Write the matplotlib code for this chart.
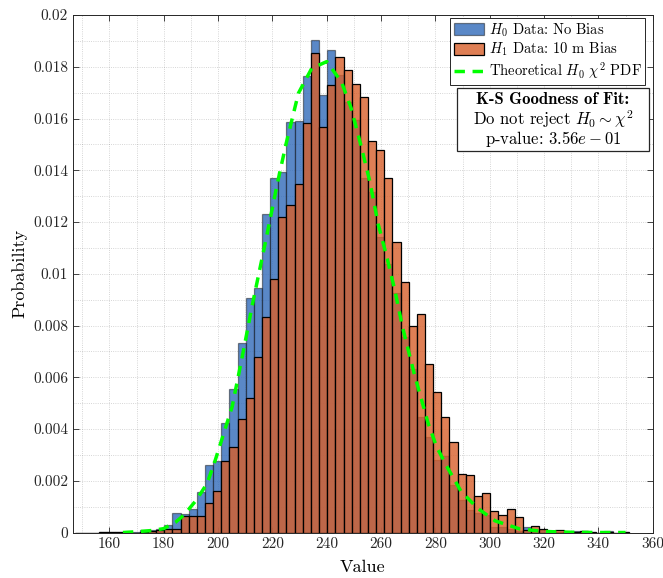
import numpy as np
import matplotlib
matplotlib.use("Agg")
import matplotlib.pyplot as plt
from matplotlib.ticker import MultipleLocator, FixedLocator
from matplotlib.patches import Rectangle

plt.rcParams['font.family'] = 'serif'
plt.rcParams['font.serif'] = ['cmr10']
plt.rcParams['mathtext.fontset'] = 'cm'
plt.rcParams['axes.unicode_minus'] = False

# bins: width 3, first edge read at ~147.2
bin_start = 147.2
bin_width = 3.0

# H0 data (no bias), probability per bin
h0_prob = [
    0, 0, 0, 0.00003, 0.00003, 0.00002, 0, 0.00002, 0.0001, 0.00008,
    0.00014, 0.00029, 0.00077, 0.0007, 0.00092, 0.00158, 0.00261, 0.00275, 0.00422, 0.00553,
    0.00734, 0.00908, 0.00944, 0.01231, 0.01371, 0.01392, 0.01588, 0.0159, 0.01764, 0.01903,
    0.0169, 0.01865, 0.01768, 0.01665, 0.01594, 0.01369, 0.01317, 0.01143, 0.01038, 0.00925,
    0.00757, 0.00632, 0.00448, 0.0037, 0.0028, 0.00296, 0.00184, 0.00126, 0.00087, 0.00075,
    0.00066, 0.00023, 0.0002, 0.00012, 0.00005, 0.00022, 0.00006, 0.00008, 0.00002, 0.00003,
    0.00002, 0.00004, 0.00004, 0.00002, 0, 0.00004, 0, 0.00002,
]

# H1 data (10 m bias)
h1_prob = [
    0, 0, 0, 0.00003, 0.00002, 0.00002, 0, 0, 0.00002, 0.00006,
    0.0001, 0.00012, 0.00012, 0.00062, 0.00062, 0.00065, 0.00115, 0.00162, 0.00275, 0.00329,
    0.00439, 0.00519, 0.00677, 0.00832, 0.00979, 0.01218, 0.01266, 0.01346, 0.01581, 0.01852,
    0.01566, 0.0173, 0.01839, 0.01786, 0.01732, 0.01682, 0.01512, 0.01477, 0.01372, 0.01122,
    0.00967, 0.00798, 0.00843, 0.0065, 0.00542, 0.00446, 0.00349, 0.00226, 0.00222, 0.00141,
    0.00152, 0.00082, 0.00066, 0.0009, 0.00059, 0.00008, 0.00024, 0.00015, 0.00001, 0.00008,
    0.00002, 0.00001, 0.00006, 0.00001, 0, 0.00001, 0, 0.00001,
]

# theoretical chi2 pdf
pdf_x = [165, 170, 176, 180, 184.4, 187.5, 192, 196, 199, 205.2, 209.4, 212.5, 218, 221.6,
         225, 229.6, 234.5, 240, 245.5, 249, 252.5, 255.8, 259, 262, 265, 268, 272.3,
         277.4, 280.5, 284.5, 289.4, 295.5, 302, 311, 320, 330, 340, 350]
pdf_y = [0.0, 0.00003, 0.00008, 0.00015, 0.0004, 0.00068, 0.00125, 0.0019, 0.0028, 0.00486,
         0.00705, 0.00873, 0.0115, 0.01337, 0.0150, 0.01698, 0.01794, 0.0182, 0.0174, 0.0164,
         0.0150, 0.0136, 0.0119, 0.0107, 0.0094, 0.0079, 0.0061, 0.0042, 0.0033, 0.0025,
         0.0016, 0.00094, 0.00045, 0.00014, 0.00004, 0.00001, 0.0, 0.0]

x_ticks = list(range(160, 361, 20))
y_ticks = [0, 0.002, 0.004, 0.006, 0.008, 0.01, 0.012, 0.014, 0.016, 0.018, 0.02]

edges = bin_start + bin_width * np.arange(len(h0_prob))

fig = plt.figure(figsize=(6.63, 5.78), dpi=100)
ax = fig.add_axes([0.110, 0.0787, 0.8745, 0.8953])

blue = (49/255, 106/255, 186/255, 0.8)
orange = (216/255, 95/255, 42/255, 0.8)

b0 = ax.bar(edges, h0_prob, width=bin_width, align='edge', color=blue,
            edgecolor=(0, 0, 0, 0.45), linewidth=0.9, zorder=2)
b1 = ax.bar(edges, h1_prob, width=bin_width, align='edge', color=orange,
            edgecolor='black', linewidth=0.9, zorder=3)
ln, = ax.plot(pdf_x, pdf_y, color=(0, 1, 0), linestyle='--', linewidth=2.5, dashes=(3, 2.2),
              zorder=4)

ax.set_xlim(146.6, 360)
ax.set_ylim(0, 0.02)
ax.xaxis.set_major_locator(FixedLocator(x_ticks))
ax.set_xticklabels([str(t) for t in x_ticks])
ax.yaxis.set_major_locator(FixedLocator(y_ticks))
ax.set_yticklabels(['%g' % t for t in y_ticks])
ax.xaxis.set_minor_locator(MultipleLocator(10))
ax.yaxis.set_minor_locator(MultipleLocator(0.001))

ax.tick_params(which='major', direction='in', top=True, right=True, length=4,
               width=0.6, labelsize=11, colors=(0.15, 0.15, 0.15))
ax.tick_params(which='minor', length=0)
for s in ax.spines.values():
    s.set_linewidth(0.7)
    s.set_color((0.15, 0.15, 0.15))

ax.set_axisbelow(True)
ax.grid(True, which='both', linestyle=':', color=(0.15, 0.15, 0.15), alpha=0.25, linewidth=0.6)

ax.set_xlabel('Value', fontsize=13, labelpad=6)
ax.set_ylabel('Probability', fontsize=13, labelpad=4)

leg = ax.legend([b0, b1, ln],
                [r'$H_0$ Data: No Bias', r'$H_1$ Data: 10 m Bias', r'Theoretical $H_0$ $\chi^2$ PDF'],
                loc='upper right', bbox_to_anchor=(0.987, 0.995), fontsize=10.5,
                fancybox=False, framealpha=1, edgecolor=(0.15, 0.15, 0.15),
                handlelength=2.1, handleheight=0.85, labelspacing=0.15,
                borderpad=0.25, handletextpad=0.3, borderaxespad=0)
leg.get_frame().set_linewidth(0.7)
leg.set_zorder(10)

# K-S test box
ax.add_patch(Rectangle((0.663, 0.737), 0.331, 0.1225, transform=ax.transAxes,
                       facecolor='white', edgecolor=(0.15, 0.15, 0.15), linewidth=0.9, zorder=10))
ax.text(0.828, 0.836, 'K-S Goodness of Fit:', transform=ax.transAxes, ha='center', va='center',
        fontsize=12, family='cmb10', zorder=11)
ax.text(0.828, 0.798, r'Do not reject $H_0 \sim \chi^2$', transform=ax.transAxes,
        ha='center', va='center', fontsize=12, zorder=11)
ax.text(0.828, 0.760, r'p-value: $3.56e-01$', transform=ax.transAxes,
        ha='center', va='center', fontsize=12, zorder=11)

fig.savefig('out.png', dpi=100)
